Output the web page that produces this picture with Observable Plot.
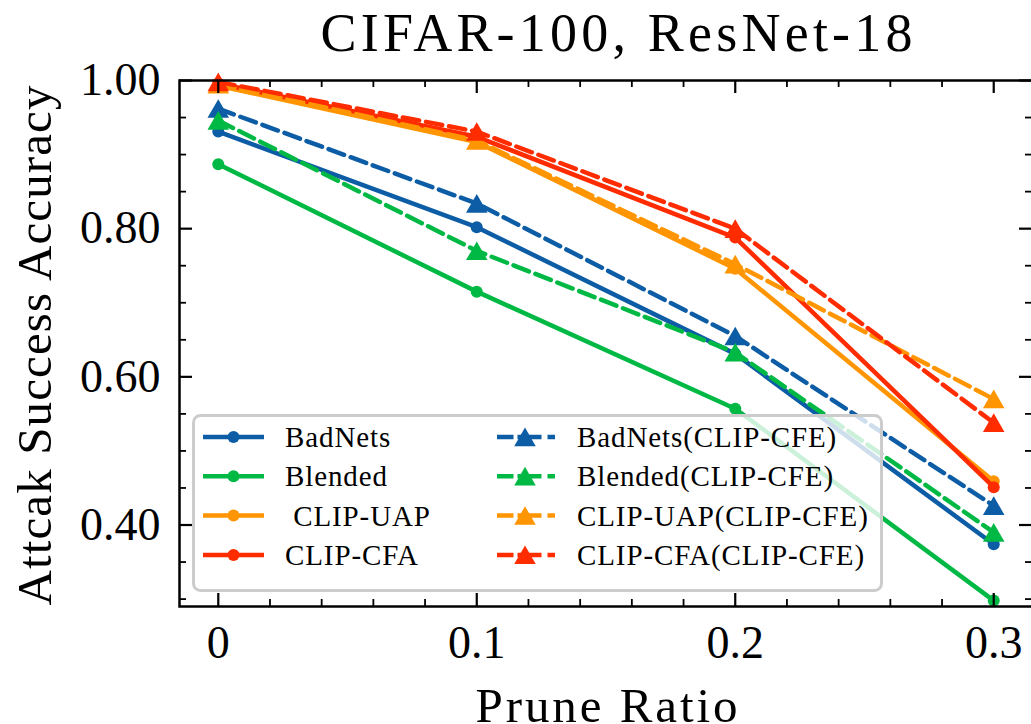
<!DOCTYPE html>
<html><head><meta charset="utf-8">
<script src="https://cdn.jsdelivr.net/npm/d3@7"></script>
<script src="https://cdn.jsdelivr.net/npm/@observablehq/plot@0.6"></script>
<style>
body{margin:0;background:#fff;}
#chart{width:1031px;height:724px;overflow:hidden;}
</style></head><body><div id="chart"></div>
<script>
// ---- data ----
const pruneRatios = [0, 0.1, 0.2, 0.3];
const badnets     = [0.931, 0.802, 0.631, 0.374];
const blended     = [0.887, 0.715, 0.557, 0.298];
const clipUap     = [0.993, 0.917, 0.746, 0.459];
const clipCfa     = [0.996, 0.924, 0.788, 0.451];
const badnetsCfe  = [0.962, 0.834, 0.655, 0.426];
const blendedCfe  = [0.946, 0.770, 0.633, 0.390];
const clipUapCfe  = [0.995, 0.919, 0.752, 0.570];
const clipCfaCfe  = [0.998, 0.931, 0.800, 0.538];
const seriesValues = [badnets, blended, clipUap, clipCfa, badnetsCfe, blendedCfe, clipUapCfe, clipCfaCfe];
const seriesNames = ["BadNets", "Blended", " CLIP-UAP", "CLIP-CFA",
  "BadNets(CLIP-CFE)", "Blended(CLIP-CFE)", "CLIP-UAP(CLIP-CFE)", "CLIP-CFA(CLIP-CFE)"];
const seriesColors = ["#0C5DA5", "#00B945", "#FF9500", "#FF2C00",
  "#0C5DA5", "#00B945", "#FF9500", "#FF2C00"];
const seriesDashed = [false, false, false, false, true, true, true, true];
const xTicks = [0, 0.1, 0.2, 0.3];
const xTickLabels = ["0", "0.1", "0.2", "0.3"];
const xMinorTicks = [0.02, 0.04, 0.06, 0.08, 0.12, 0.14, 0.16, 0.18, 0.22, 0.24, 0.26, 0.28];
const yTicks = [0.4, 0.6, 0.8, 1.0];
const yTickLabels = ["0.40", "0.60", "0.80", "1.00"];
const yMinorTicks = [0.30, 0.35, 0.45, 0.50, 0.55, 0.65, 0.70, 0.75, 0.85, 0.90, 0.95];
const titleText = "CIFAR-100, ResNet-18";
const xLabel = "Prune Ratio";
const yLabel = "Attcak Success Accuracy";

// ---- layout ----
const W = 1031, H = 724;
const mL = 179, mR = -1, mT = 80, mB = 118;
const fw = W - mL - mR, fh = H - mT - mB;
const FONT = "Liberation Serif";
const majLen = 13, minLen = 7;
const LW = 4.5, DASH = "16.5,7", CIRC_R = 6, TRI_R = 8;

const marks = [];
seriesValues.forEach((vals, i) => {
  marks.push(Plot.line(pruneRatios, {
    x: d => d, y: (d, j) => vals[j],
    stroke: seriesColors[i], strokeWidth: LW, strokeLinejoin: "round",
    strokeDasharray: seriesDashed[i] ? DASH : null
  }));
  marks.push(Plot.dot(pruneRatios, {
    x: d => d, y: (d, j) => vals[j],
    fill: seriesColors[i], stroke: null,
    symbol: seriesDashed[i] ? "triangle" : "circle",
    r: seriesDashed[i] ? TRI_R : CIRC_R,
    dy: seriesDashed[i] ? 3 : 0
  }));
});

// ticks (inward, all four sides)
marks.push(
  Plot.ruleX(xTicks, {x: d => d, insetTop: fh - majLen, strokeWidth: 2.2}),
  Plot.ruleX(xTicks, {x: d => d, insetBottom: fh - majLen, strokeWidth: 2.2}),
  Plot.ruleX(xMinorTicks, {x: d => d, insetTop: fh - minLen, strokeWidth: 1.8}),
  Plot.ruleX(xMinorTicks, {x: d => d, insetBottom: fh - minLen, strokeWidth: 1.8}),
  Plot.ruleY(yTicks, {y: d => d, insetRight: fw - majLen, strokeWidth: 2.2}),
  Plot.ruleY(yTicks, {y: d => d, insetLeft: fw - majLen, strokeWidth: 2.2}),
  Plot.ruleY(yMinorTicks, {y: d => d, insetRight: fw - minLen, strokeWidth: 1.8}),
  Plot.ruleY(yMinorTicks, {y: d => d, insetLeft: fw - minLen, strokeWidth: 1.8}),
  Plot.frame({stroke: "black", strokeWidth: 2.5})
);

// tick labels, title, axis labels
marks.push(
  Plot.text(xTicks, {x: d => d, text: (d, i) => xTickLabels[i], frameAnchor: "bottom",
    lineAnchor: "top", dy: 19, fontSize: 46, fill: "black"}),
  Plot.text(yTicks, {y: d => d, text: (d, i) => yTickLabels[i], frameAnchor: "left",
    textAnchor: "end", lineAnchor: "middle", dx: -19, fontSize: 46, fill: "black"}),
  Plot.text([titleText], {text: d => d, frameAnchor: "top", lineAnchor: "bottom",
    textAnchor: "start", dy: -30, dx: 320 - (mL + fw / 2), fontSize: 54, fill: "black"}),
  Plot.text([xLabel], {text: d => d, frameAnchor: "bottom", lineAnchor: "bottom",
    textAnchor: "start", dy: 115, dx: 475 - (mL + fw / 2), fontSize: 49, fill: "black"}),
  Plot.text([yLabel], {text: d => d, frameAnchor: "left", lineAnchor: "bottom",
    textAnchor: "start", rotate: -90, dx: -129, dy: 605 - (mT + fh / 2), fontSize: 49, fill: "black"})
);

const plot = Plot.plot({
  width: W, height: H,
  marginLeft: mL, marginRight: mR, marginTop: mT, marginBottom: mB,
  x: {domain: [-0.015, 0.315], axis: null},
  y: {domain: [0.29, 1.0], axis: null},
  style: {fontFamily: FONT, background: "white", overflow: "hidden"},
  marks
});

// stretch big texts to match reference widths
const targetLen = {"CIFAR-100, ResNet-18": 592, "Prune Ratio": 262, "Attcak Success Accuracy": 520};
d3.select(plot).selectAll("text").each(function() {
  const t = this.textContent;
  if (targetLen[t]) {
    d3.select(this).attr("textLength", targetLen[t]).attr("lengthAdjust", "spacing");
  }
});

// legend
const svg = d3.select(plot);
const lg = svg.append("g").attr("font-family", FONT).attr("text-anchor", "start");
lg.append("rect").attr("x", 193.5).attr("y", 415.5).attr("width", 688).attr("height", 175)
  .attr("rx", 7).attr("fill", "white").attr("fill-opacity", 0.8)
  .attr("stroke", "#cccccc").attr("stroke-width", 3);
const rowY0 = 437, rowStep = 39.3;
seriesNames.forEach((name, i) => {
  const col = seriesDashed[i] ? 1 : 0;
  const row = i % 4;
  const y = rowY0 + row * rowStep;
  const x0 = col ? 497 : 203, x1 = col ? 555 : 264, xm = col ? 525 : 233.5;
  const tx = col ? 577 : 285;
  lg.append("line").attr("x1", x0).attr("x2", x1).attr("y1", y).attr("y2", y)
    .attr("stroke", seriesColors[i]).attr("stroke-width", LW)
    .attr("stroke-dasharray", col ? "16.5,4,24,6" : null);
  if (col) {
    lg.append("path").attr("d", d3.symbol(d3.symbolTriangle, Math.PI * TRI_R * TRI_R)())
      .attr("transform", `translate(${xm},${y + 3})`).attr("fill", seriesColors[i]);
  } else {
    lg.append("circle").attr("cx", xm).attr("cy", y).attr("r", CIRC_R).attr("fill", seriesColors[i]);
  }
  lg.append("text").attr("x", tx).attr("y", y + 10).attr("font-size", 29)
    .attr("letter-spacing", "0.9px").style("white-space", "pre").attr("fill", "black").text(name);
});

document.getElementById("chart").appendChild(plot);
</script></body></html>
